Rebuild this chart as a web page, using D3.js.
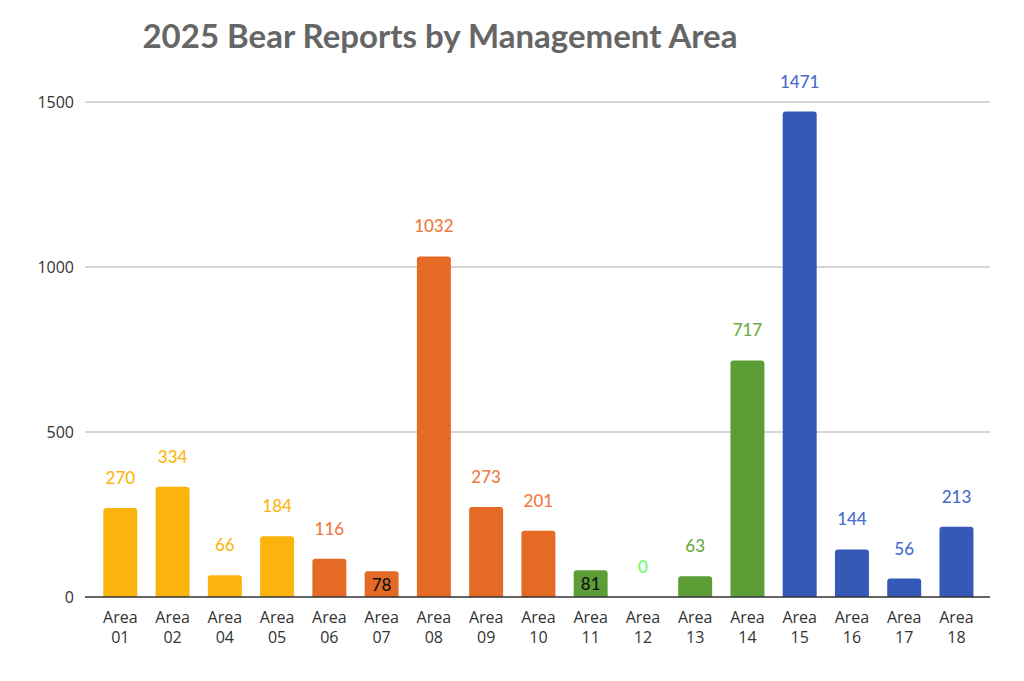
<!DOCTYPE html>
<html><head><meta charset="utf-8">
<script src="https://cdn.jsdelivr.net/npm/d3@7"></script>
<style>body{margin:0;background:#fff}</style>
</head><body>
<svg id="c" width="1024" height="681"></svg>
<script>
const categories = ["01","02","04","05","06","07","08","09","10","11","12","13","14","15","16","17","18"];
const values = [270,334,66,184,116,78,1032,273,201,81,0,63,717,1471,144,56,213];
const groups = ["y","y","y","y","o","o","o","o","o","g","g","g","g","b","b","b","b"];
const yTicks = [0,500,1000,1500];
const title = "2025 Bear Reports by Management Area";

const barColor = {y:"#FBB30E", o:"#E46A26", g:"#5C9E35", b:"#3559B6"};
const labelColor = {y:"#FBB614", o:"#EE7A42", g:"#6AAC45", b:"#4A6CCB"};
const insideLabel = {"07":true,"11":true};

const svg = d3.select("#c");
const x = d3.scaleBand().domain(categories).range([94.2, 982.6]).paddingInner(0.35).paddingOuter(0.175);
const y = d3.scaleLinear().domain([0,1500]).range([597,102]);

svg.append("text").attr("x",440).attr("y",48).attr("text-anchor","middle")
  .attr("font-family","Lato, 'Open Sans', sans-serif").attr("font-weight","bold")
  .attr("font-size",33).attr("fill","#666").text(title);

svg.append("g").attr("transform","translate(85,0)")
  .call(d3.axisLeft(y).tickValues(yTicks).tickFormat(d3.format("d")).tickSize(0).tickPadding(11))
  .call(g=>{g.select(".domain").remove();
    g.selectAll("text").attr("font-family","'Open Sans', sans-serif").attr("font-size",16).attr("fill","#333");});
svg.append("g").selectAll("line").data(yTicks.filter(d=>d>0)).join("line")
  .attr("x1",85).attr("x2",990).attr("y1",d=>y(d)).attr("y2",d=>y(d))
  .attr("stroke","#c8c8c8").attr("stroke-width",1.5);

// bars
const r = 3;
svg.append("g").selectAll("path").data(categories).join("path")
  .attr("d",(c,i)=>{
    const x0=x(c), w=x.bandwidth(), yt=y(values[i]), yb=y(0);
    if(values[i]===0) return "";
    const rr=Math.min(r,(yb-yt));
    return `M${x0},${yb}V${yt+rr}Q${x0},${yt} ${x0+rr},${yt}H${x0+w-rr}Q${x0+w},${yt} ${x0+w},${yt+rr}V${yb}Z`;
  })
  .attr("fill",(c,i)=>barColor[groups[i]]);

// baseline axis
svg.append("line").attr("x1",85).attr("x2",990).attr("y1",y(0)).attr("y2",y(0))
  .attr("stroke","#333").attr("stroke-width",1.5);

// value labels
svg.append("g").selectAll("text").data(categories).join("text")
  .attr("x",c=>x(c)+x.bandwidth()/2)
  .attr("y",(c,i)=> insideLabel[c] ? y(values[i])+20 : y(values[i])-24)
  .attr("text-anchor","middle")
  .attr("font-family","Lato, 'Open Sans', sans-serif").attr("font-size",17).attr("font-weight",500)
  .attr("fill",(c,i)=> insideLabel[c] ? "#111" : (c==="12" ? "#66FF66" : labelColor[groups[i]]))
  .text((c,i)=>values[i]);

// x labels
const xl = svg.append("g").selectAll("text").data(categories).join("text")
  .attr("text-anchor","middle")
  .attr("font-family","'Open Sans', sans-serif").attr("font-size",16).attr("fill","#333");
xl.append("tspan").attr("x",c=>x(c)+x.bandwidth()/2).attr("y",623).text("Area");
xl.append("tspan").attr("x",c=>x(c)+x.bandwidth()/2).attr("y",643).text(c=>c);
</script>
</body></html>
